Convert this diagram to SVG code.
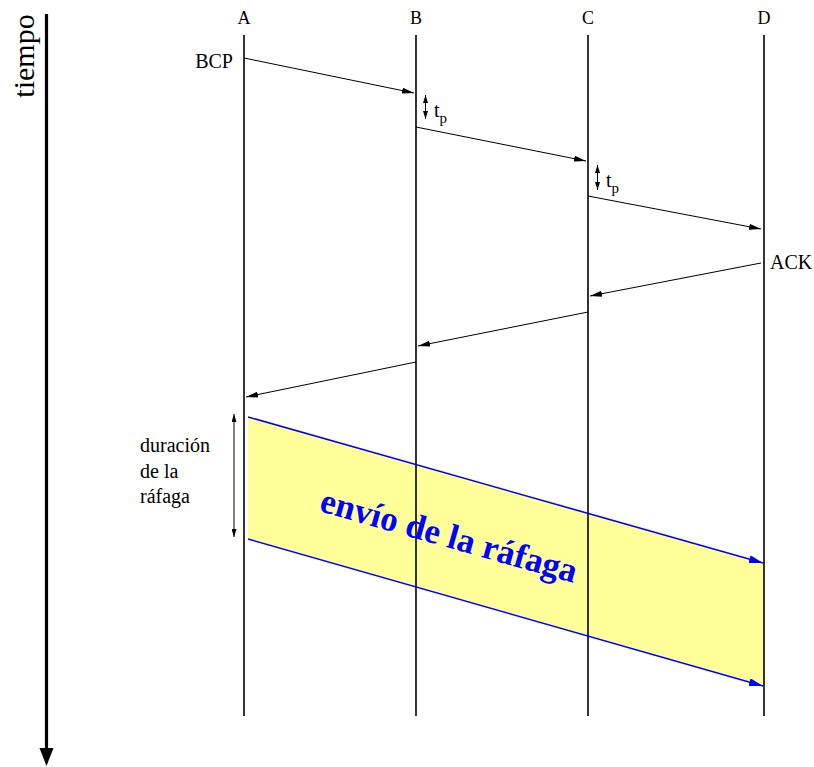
<svg xmlns="http://www.w3.org/2000/svg" width="814" height="767" viewBox="0 0 814 767">
<style>
.lbl{font-family:"Liberation Serif","Times New Roman",serif;font-size:20px;fill:#000}
.hdr{font-size:18px}
.life{stroke:#000;stroke-width:1.6;fill:none}
.msg{stroke:#000;stroke-width:1;fill:none;marker-end:url(#ah)}
.blue{stroke:#0000ff;stroke-width:1.6;fill:none;marker-end:url(#ahb)}
</style>
<defs>
<marker id="ah" viewBox="0 0 12 6" refX="12" refY="3" markerWidth="12" markerHeight="6" markerUnits="userSpaceOnUse" orient="auto-start-reverse"><path d="M0,0 L12,3 L0,6 z" fill="#000"/></marker>
<marker id="ahb" viewBox="0 0 14 8" refX="14" refY="4" markerWidth="14" markerHeight="8" markerUnits="userSpaceOnUse" orient="auto"><path d="M0,0 L14,4 L0,8 z" fill="#0000ff"/></marker>
<marker id="ahs" viewBox="0 0 8 5" refX="8" refY="2.5" markerWidth="8" markerHeight="5" markerUnits="userSpaceOnUse" orient="auto-start-reverse"><path d="M0,0 L8,2.5 L0,5 z" fill="#000"/></marker>
</defs>
<rect width="814" height="767" fill="#fff"/>
<g id="time-axis">
<line x1="46.5" y1="14" x2="46.5" y2="750" stroke="#000" stroke-width="3.2"/>
<path d="M39.5,748 L53.5,748 L46.5,766 z" fill="#000"/>
<text class="lbl" style="font-size:30px" transform="translate(34,56) rotate(-90)" text-anchor="middle">tiempo</text>
</g>
<g id="burst">
<path d="M248,417 L764,563 L764,687 L248,539 z" fill="#ffff99" stroke="none"/>
</g>
<g id="node-A"><line class="life" x1="244" y1="35" x2="244" y2="716"/><text class="lbl hdr" x="244" y="24" text-anchor="middle">A</text></g>
<g id="node-B"><line class="life" x1="416" y1="35" x2="416" y2="716"/><text class="lbl hdr" x="416" y="24" text-anchor="middle">B</text></g>
<g id="node-C"><line class="life" x1="588" y1="35" x2="588" y2="716"/><text class="lbl hdr" x="588" y="24" text-anchor="middle">C</text></g>
<g id="node-D"><line class="life" x1="764" y1="35" x2="764" y2="716"/><text class="lbl hdr" x="764" y="24" text-anchor="middle">D</text></g>
<g id="connectors">
<line class="msg" x1="244" y1="58" x2="414" y2="93"/>
<line class="msg" x1="416" y1="127" x2="586" y2="161"/>
<line class="msg" x1="588" y1="196" x2="761" y2="229"/>
<line class="msg" x1="761" y1="263" x2="590" y2="296"/>
<line class="msg" x1="588" y1="312" x2="418" y2="346"/>
<line class="msg" x1="416" y1="362" x2="246" y2="397"/>
<line x1="425.5" y1="95" x2="425.5" y2="119" stroke="#000" stroke-width="1" marker-start="url(#ahs)" marker-end="url(#ahs)"/>
<line x1="597.5" y1="165" x2="597.5" y2="190" stroke="#000" stroke-width="1" marker-start="url(#ahs)" marker-end="url(#ahs)"/>
<line x1="234" y1="414" x2="234" y2="537" stroke="#000" stroke-width="1" marker-start="url(#ahs)" marker-end="url(#ahs)"/>
<line class="blue" x1="248" y1="417" x2="763" y2="563"/>
<line class="blue" x1="248" y1="539" x2="763" y2="686"/>
</g>
<g id="labels">
<text class="lbl" x="233" y="68" text-anchor="end">BCP</text>
<text class="lbl" x="434" y="117">t<tspan font-size="15" dy="6">p</tspan></text>
<text class="lbl" x="606" y="187">t<tspan font-size="15" dy="6">p</tspan></text>
<text class="lbl" x="770" y="269">ACK</text>
<text class="lbl" x="140" y="452">duración</text>
<text class="lbl" x="140" y="478">de la</text>
<text class="lbl" x="140" y="503">ráfaga</text>
<text transform="translate(446,547) rotate(15.8)" text-anchor="middle" font-family="'Liberation Serif','Times New Roman',serif" font-size="35" font-weight="bold" fill="#0000ff">envío de la ráfaga</text>
</g>
</svg>
